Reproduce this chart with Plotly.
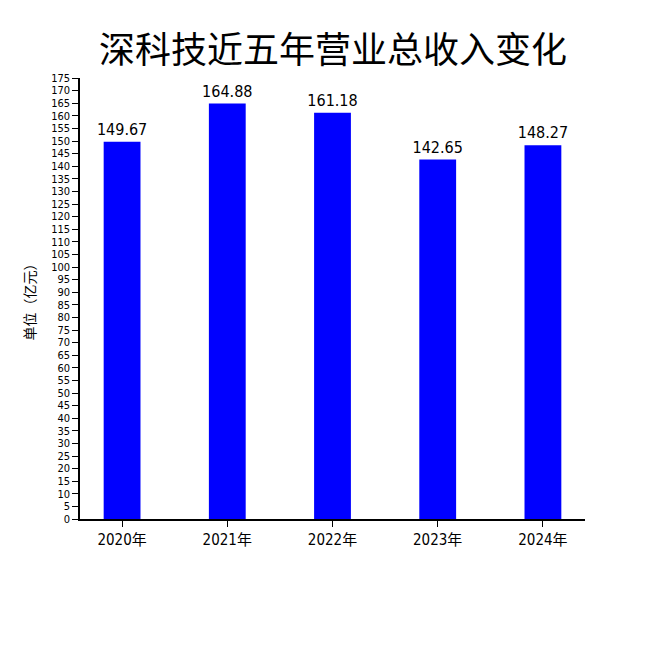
import plotly.graph_objects as go

years = ['2020年', '2021年', '2022年', '2023年', '2024年']
revenue = [149.67, 164.88, 161.18, 142.65, 148.27]
y_ticks = list(range(0, 180, 5))

narrow = 'DejaVu Sans Condensed, Liberation Sans Narrow, Noto Sans CJK SC'

fig = go.Figure()
fig.add_trace(go.Bar(x = years,
                     y = revenue,
                     width = 0.35,
                     marker = dict(color = '#0000ff', line = dict(width = 0)),
                     text = ['%.2f' % v for v in revenue],
                     textposition = 'outside',
                     constraintext = 'none',
                     textfont = dict(size = 16, color = 'black', family = narrow),
                     cliponaxis = False))

# page body adds an 8px offset, margins compensate for it
fig.update_layout(
    width = 650, height = 650,
    title = dict(text = '深科技近五年营业总收入变化', x = 0.5, xanchor = 'center',
                 y = 0.935, yanchor = 'middle',
                 font = dict(family = 'Noto Sans CJK SC', size = 36, color = 'black')),
    margin = dict(l = 72, r = 73, t = 70, b = 139),
    paper_bgcolor = 'white', plot_bgcolor = 'white',
    font = dict(family = narrow, color = 'black'),
    showlegend = False,
)
fig.update_xaxes(range = [-0.4, 4.4], showline = True, linecolor = 'black', linewidth = 1.5,
                 ticks = 'outside', ticklen = 6, tickcolor = 'black', automargin = False,
                 tickfont = dict(size = 15, family = narrow, color = 'black'),
                 showgrid = False, zeroline = False)
fig.update_yaxes(range = [0, 175], tickvals = y_ticks, showline = True, linecolor = 'black',
                 linewidth = 1.5, ticks = 'outside', ticklen = 6, tickcolor = 'black',
                 automargin = False,
                 tickfont = dict(size = 11, family = narrow, color = 'black'),
                 showgrid = False, zeroline = False,
                 title = dict(text = '单位（亿元）', standoff = 12,
                              font = dict(size = 14, family = 'Noto Sans CJK SC', color = 'black')))

fig.write_html("out.html")
